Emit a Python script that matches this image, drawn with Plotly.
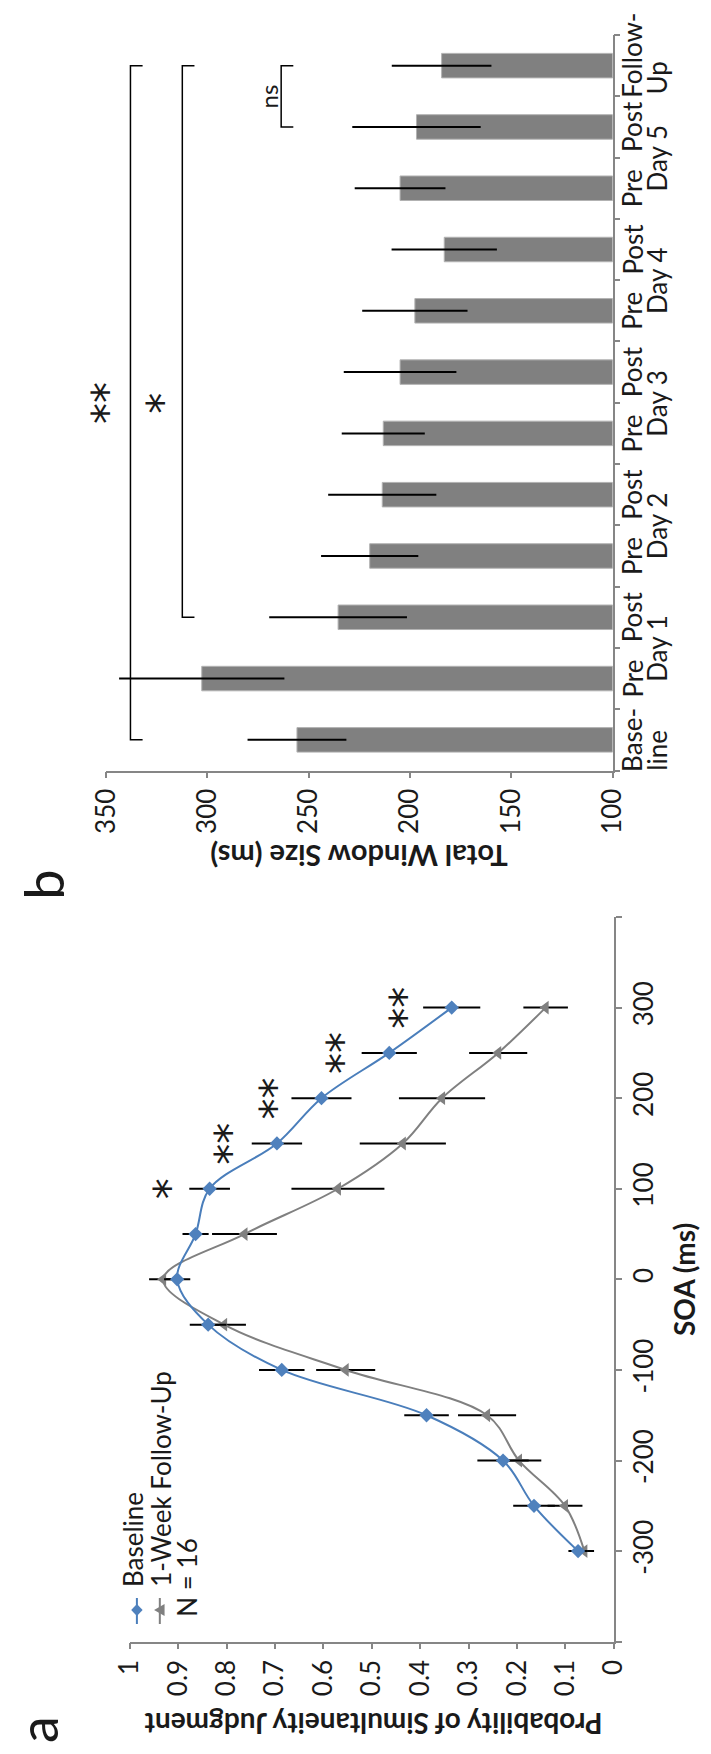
import plotly.graph_objects as go

W, H = 711, 1754

# ---------------- Panel a data ----------------
soa = [-300, -250, -200, -150, -100, -50, 0, 50, 100, 150, 200, 250, 300]
baseline = [0.074, 0.165, 0.229, 0.387, 0.686, 0.838, 0.902, 0.864, 0.835, 0.696, 0.604, 0.464, 0.335]
baseline_err = [0.020, 0.043, 0.053, 0.046, 0.047, 0.038, 0.027, 0.027, 0.042, 0.052, 0.062, 0.057, 0.059]
followup = [0.061, 0.101, 0.196, 0.262, 0.554, 0.805, 0.931, 0.763, 0.570, 0.436, 0.355, 0.239, 0.141]
followup_err = [0.020, 0.036, 0.046, 0.060, 0.061, 0.045, 0.029, 0.067, 0.096, 0.089, 0.089, 0.060, 0.046]

star_soa = [100, 150, 200, 250, 300]
star_text = ["*", "**", "**", "**", "**"]
star_prob = [0.914, 0.788, 0.695, 0.555, 0.427]

prob_ticks = [0, 0.1, 0.2, 0.3, 0.4, 0.5, 0.6, 0.7, 0.8, 0.9, 1]
prob_ticktext = ["0", "0.1", "0.2", "0.3", "0.4", "0.5", "0.6", "0.7", "0.8", "0.9", "1"]
soa_ticks = [-400, -300, -200, -100, 0, 100, 200, 300, 400]
soa_ticktext = ["", "-300", "-200", "-100", "0", "100", "200", "300", ""]

# ---------------- Panel b data ----------------
categories = ["Baseline", "Pre Day 1", "Post Day 1", "Pre Day 2", "Post Day 2", "Pre Day 3",
              "Post Day 3", "Pre Day 4", "Post Day 4", "Pre Day 5", "Post Day 5", "Follow-Up"]
window = [255.8, 302.8, 235.5, 219.9, 213.7, 213.2, 204.9, 197.6, 183.1, 204.9, 196.8, 184.4]
window_err = [24.4, 40.8, 34.0, 24.0, 26.7, 20.5, 27.8, 26.0, 26.0, 22.4, 31.7, 24.6]
cat_line1 = ["Base-", "Pre", "Post", "Pre", "Post", "Pre", "Post", "Pre", "Post", "Pre", "Post", "Follow-"]
day_labels = ["Day 1", "Day 2", "Day 3", "Day 4", "Day 5"]
window_ticks = [100, 150, 200, 250, 300, 350]

# brackets: (start index, end index, level ms, label, label x ms)
brackets = [(0, 11, 338.0, "**", 347.0), (2, 11, 312.4, "*", 320.0), (10, 11, 263.6, "ns", 270.0)]

BLUE_LINE = "#4A7EBB"
BLUE_MARK = "#4F81BD"
GRAY = "#808080"
AXIS = "#868686"
TXT = "#1a1a1a"
FONT = "Lato"
STARFONT = "DejaVu Sans"


def px(x):
    return x / W


def py(y):
    return 1 - y / H


idx = list(range(len(categories)))

fig = go.Figure()

# Panel a traces
fig.add_trace(go.Scatter(
    x=followup, y=soa, mode="lines+markers", xaxis="x", yaxis="y",
    line=dict(color=GRAY, width=2, shape="spline", smoothing=1),
    marker=dict(symbol="triangle-left", size=12, color=GRAY),
    error_x=dict(type="data", array=followup_err, color="black", thickness=2, width=0),
    showlegend=False))
fig.add_trace(go.Scatter(
    x=baseline, y=soa, mode="lines+markers", xaxis="x", yaxis="y",
    line=dict(color=BLUE_LINE, width=2, shape="spline", smoothing=1),
    marker=dict(symbol="diamond", size=11, color=BLUE_MARK),
    error_x=dict(type="data", array=baseline_err, color="black", thickness=2, width=0),
    showlegend=False))

# Panel b bars
fig.add_trace(go.Bar(
    x=window, y=idx, orientation="h", xaxis="x2", yaxis="y2", width=0.4,
    marker=dict(color=GRAY, line=dict(color="#b3b3b3", width=1)),
    error_x=dict(type="data", array=window_err, color="black", thickness=2, width=0),
    showlegend=False))

# Brackets
for s, e, lvl, lab, lx in brackets:
    fig.add_trace(go.Scatter(
        x=[lvl - 6, lvl, lvl, lvl - 6], y=[s, s, e, e], mode="lines",
        xaxis="x2", yaxis="y2", line=dict(color="black", width=1.5),
        showlegend=False, hoverinfo="skip"))

tickfont = dict(family=FONT, size=26, color=TXT)

fig.update_layout(
    width=W, height=H, margin=dict(l=0, r=0, t=0, b=0),
    paper_bgcolor="white", plot_bgcolor="white",
    xaxis=dict(domain=[px(117), px(624)], range=[1, 0], anchor="y",
               tickvals=prob_ticks, ticktext=prob_ticktext, tickangle=-90,
               ticks="outside", ticklen=6, tickwidth=1.5, tickcolor=AXIS,
               showline=True, linecolor=AXIS, linewidth=1.5,
               showgrid=False, zeroline=False, tickfont=tickfont),
    yaxis=dict(domain=[py(1641.7), py(917)], range=[-400, 400], anchor="x", side="right",
               tickvals=soa_ticks, ticktext=soa_ticktext, tickangle=-90,
               ticks="outside", ticklen=6, tickwidth=1.5, tickcolor=AXIS,
               showline=True, linecolor=AXIS, linewidth=1.5,
               showgrid=False, zeroline=False, tickfont=tickfont),
    xaxis2=dict(domain=[px(92.3), px(622.6)], range=[350, 100], anchor="y2",
                tickvals=window_ticks, tickangle=-90,
                ticks="outside", ticklen=6, tickwidth=1.5, tickcolor=AXIS,
                showline=True, linecolor=AXIS, linewidth=1.5,
                showgrid=False, zeroline=False, tickfont=tickfont),
    yaxis2=dict(domain=[py(770.5), py(35)], range=[-0.5, 11.5], anchor="x2", side="right",
                tickvals=[i - 0.5 for i in range(len(categories) + 1)], showticklabels=False,
                ticks="outside", ticklen=6, tickwidth=1.5, tickcolor=AXIS,
                showline=True, linecolor=AXIS, linewidth=1.5,
                showgrid=False, zeroline=False),
    bargap=0.6,
)

ann = []


def A(**kw):
    base = dict(showarrow=False, xanchor="center", yanchor="middle")
    base.update(kw)
    ann.append(base)


# Stars panel a
for s, t, p in zip(star_soa, star_text, star_prob):
    A(x=p, y=s, xref="x", yref="y", text=t, textangle=-90, xshift=-2,
      font=dict(family=STARFONT, size=42, color=TXT))

# Category labels panel b
lab_font = dict(family=FONT, size=26, color=TXT)
for i, t in enumerate(cat_line1):
    ys = 10 if t == "Follow-" else 0
    A(x=px(643), y=i, xref="paper", yref="y2", text=t, textangle=-90, yshift=ys, font=lab_font)
A(x=px(669), y=0, xref="paper", yref="y2", text="line", textangle=-90, yshift=-10, font=lab_font)
A(x=px(669), y=11, xref="paper", yref="y2", text="Up", textangle=-90, yshift=-12, font=lab_font)
for d, t in enumerate(day_labels):
    A(x=px(669), y=2 * d + 1.5, xref="paper", yref="y2", text=t, textangle=-90, font=lab_font)

# Bracket labels
for s, e, lvl, lab, lx in brackets:
    if lab == "ns":
        A(x=lx, y=(s + e) / 2, xref="x2", yref="y2", text=lab, textangle=-90,
          font=dict(family=FONT, size=24, color=TXT))
    else:
        A(x=lx, y=5.5, xref="x2", yref="y2", text=lab, textangle=-90, xshift=-4,
          font=dict(family=STARFONT, size=42, color=TXT))

# Axis titles
title_font = dict(family=FONT, size=28, color=TXT)
A(x=px(698), y=py(1279.4), xref="paper", yref="paper", text="<b>SOA (ms)</b>",
  textangle=-90, font=title_font)
A(x=px(372), y=py(1724), xref="paper", yref="paper",
  text="<b>Probability of Simultaneity Judgment</b>", textangle=180, font=title_font)
A(x=px(357), y=py(857), xref="paper", yref="paper",
  text="<b>Total Window Size (ms)</b>", textangle=180,
  font=dict(family=FONT, size=29, color=TXT))
# panel letters
A(x=px(20), y=py(1730), xref="paper", yref="paper", text="a", textangle=-90,
  font=dict(family=FONT, size=54, color=TXT))
A(x=px(26), y=py(885), xref="paper", yref="paper", text="b", textangle=-90,
  font=dict(family=FONT, size=54, color=TXT))

# Legend texts
leg_font = dict(family=FONT, size=26, color=TXT)
A(x=px(120), y=py(1589), xref="paper", yref="paper", text="Baseline",
  textangle=-90, yanchor="bottom", font=leg_font)
A(x=px(149.5), y=py(1589), xref="paper", yref="paper", text="1-Week Follow-Up",
  textangle=-90, yanchor="bottom", font=leg_font)
A(x=px(176.6), y=py(1619), xref="paper", yref="paper", text="N = 16",
  textangle=-90, yanchor="bottom", font=leg_font)

fig.update_layout(annotations=ann)

# Legend glyphs (shapes)
shapes = []
bx, gx, ly = 124.5, 148.5, 1610
shapes.append(dict(type="line", xref="paper", yref="paper", x0=px(bx), x1=px(bx),
                   y0=py(ly - 12), y1=py(ly + 14), line=dict(color=BLUE_LINE, width=2)))
shapes.append(dict(type="path", xref="paper", yref="paper",
                   path=f"M {px(bx)},{py(ly-6)} L {px(bx+6)},{py(ly)} L {px(bx)},{py(ly+6)} L {px(bx-6)},{py(ly)} Z",
                   fillcolor=BLUE_MARK, line=dict(width=0)))
shapes.append(dict(type="line", xref="paper", yref="paper", x0=px(gx), x1=px(gx),
                   y0=py(ly - 12), y1=py(ly + 14), line=dict(color=GRAY, width=2)))
shapes.append(dict(type="path", xref="paper", yref="paper",
                   path=f"M {px(gx-6)},{py(ly)} L {px(gx+5)},{py(ly-6)} L {px(gx+5)},{py(ly+6)} Z",
                   fillcolor=GRAY, line=dict(width=0)))
fig.update_layout(shapes=shapes)

fig.write_html("out.html")
